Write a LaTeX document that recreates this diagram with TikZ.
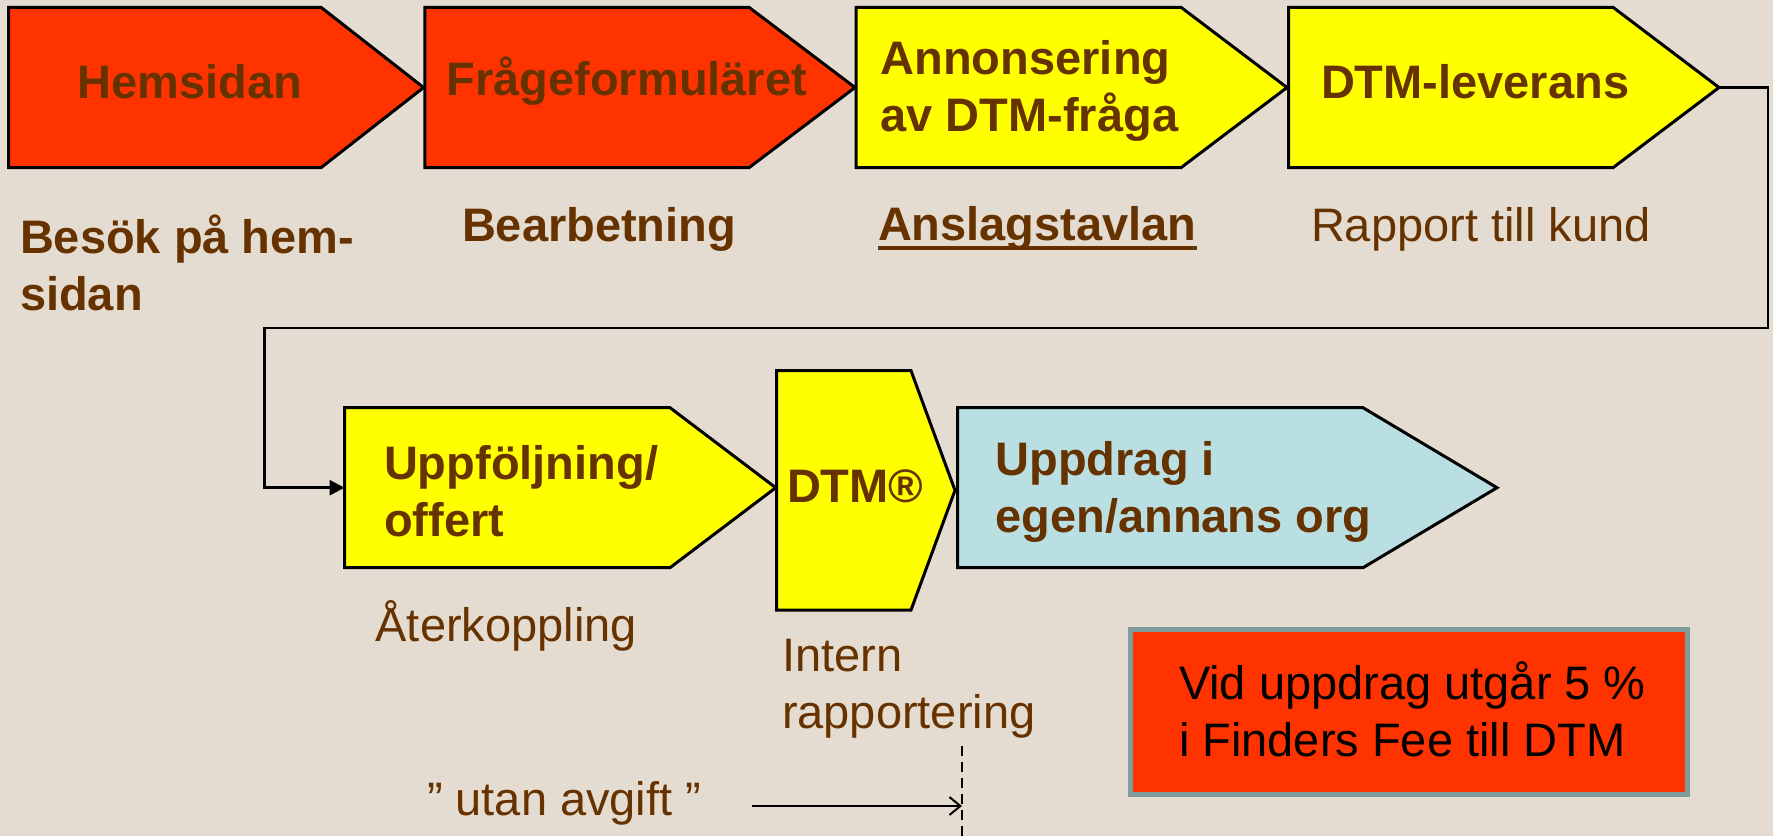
\documentclass[tikz,border=0pt]{standalone}
\usepackage{fontspec}
\setmainfont{Liberation Sans}
\usetikzlibrary{arrows.meta}
\definecolor{bgc}{RGB}{228,220,208}
\definecolor{txtbrown}{RGB}{102,51,0}
\definecolor{boxred}{RGB}{255,51,0}
\definecolor{boxyellow}{RGB}{255,255,0}
\definecolor{boxblue}{RGB}{185,223,227}
\definecolor{feeborder}{RGB}{128,155,155}
\newcommand\chev[7]{%
  \path[chevbox, fill=#2] (#3,#4) -- (#5,#4) -- (#6,{(#4+#7)/2}) -- (#5,#7) -- (#3,#7) -- cycle;
  \coordinate (#1-w) at (#3,{(#4+#7)/2});
  \coordinate (#1-e) at (#6,{(#4+#7)/2});
}
\begin{document}
\begin{tikzpicture}[x=1pt,y=-1pt,
  lbl/.style={anchor=base west, inner sep=0pt, outer sep=0pt, text=txtbrown, font=\fontsize{47}{57}\selectfont, align=left},
  blbl/.style={lbl, font=\fontsize{47}{57}\selectfont\bfseries},
  chevbox/.style={draw=black, line width=3pt, line join=miter},
  flow/.style={draw=black, line width=2.5pt, line join=miter}]
\useasboundingbox (0,0) rectangle (1773,836);
\fill[bgc] (0,0) rectangle (1773,836);

% top row
\chev{hem}{boxred}{8.6}{7.3}{321}{423.6}{167.7}
\chev{frag}{boxred}{424.8}{7.3}{749}{855}{167.7}
\chev{ann}{boxyellow}{856}{7.3}{1181}{1287}{167.7}
\chev{lev}{boxyellow}{1288.5}{7.3}{1613}{1719}{167.7}
% bottom row
\chev{upf}{boxyellow}{344.6}{407.7}{670}{775.7}{567.7}
\chev{dtm}{boxyellow}{776.7}{370.7}{911}{955}{610}
\chev{upd}{boxblue}{957.5}{407.7}{1363}{1497}{567.7}

% box labels (multi-line labels are placed by the baseline of their last line)
\node[blbl] (them) at (77.5,98) {Hemsidan};
\node[blbl] (tfrag) at (446.6,95) {Frågeformuläret};
\node[blbl] (tann) at (880.6,131) {Annonsering\\av DTM-fråga};
\node[blbl] (tlev) at (1321,98) {DTM-leverans};
\node[blbl] (tupf) at (384,536.7) {Uppföljning/\\offert};
\node[blbl] (tdtm) at (787,502) {DTM®};
\node[blbl] (tupd) at (995.5,532) {Uppdrag i\\egen/annans org};

% captions
\node[blbl] (besok) at (20,310) {Besök på hem-\\sidan};
\node[blbl] (bearb) at (462,241.7) {Bearbetning};
\node[blbl] (ansl) at (878,240) {Anslagstavlan};
\draw[txtbrown, line width=4pt] ([yshift=-8pt]ansl.base west) -- ([yshift=-8pt]ansl.base east);
\node[lbl] (rapp) at (1311,241.7) {Rapport till kund};
\node[lbl] (aterk) at (375.6,641) {Återkoppling};
\node[lbl] (intern) at (782,728) {Intern\\rapportering};
\node[lbl] (utan) at (427,815) {” utan avgift ”};

% connector from DTM-leverans to Uppföljning
\coordinate (c1) at (1768,87.5);
\coordinate (c2) at (1768,328);
\coordinate (c3) at (264.5,328);
\coordinate (c4) at (264.5,487.7);
\draw[flow, -{Triangle[length=15pt,width=15pt]}] (lev-e) -- (c1) -- (c2) -- (c3) -- (c4) -- (upf-w);

% fee box
\node[draw=feeborder, line width=5pt, fill=boxred, minimum width=557.3pt, minimum height=165pt, inner sep=0pt] (fee) at (1408.85,711.7) {};
\node[lbl, text=black] (vid) at (1179,756.7) {Vid uppdrag utgår 5 \%\\i Finders Fee till DTM};

% dashed line and arrow
\coordinate (d1) at (962,746);
\coordinate (d2) at (962,836);
\draw[black, line width=1.5pt, dash pattern=on 10pt off 6pt] (d1) -- (d2);
\coordinate (a1) at (752,806);
\coordinate (a2) at (962,806);
\draw[black, line width=2pt, -{Straight Barb[length=11pt,width=18pt,line width=2pt]}] (a1) -- (a2);
\end{tikzpicture}
\end{document}
